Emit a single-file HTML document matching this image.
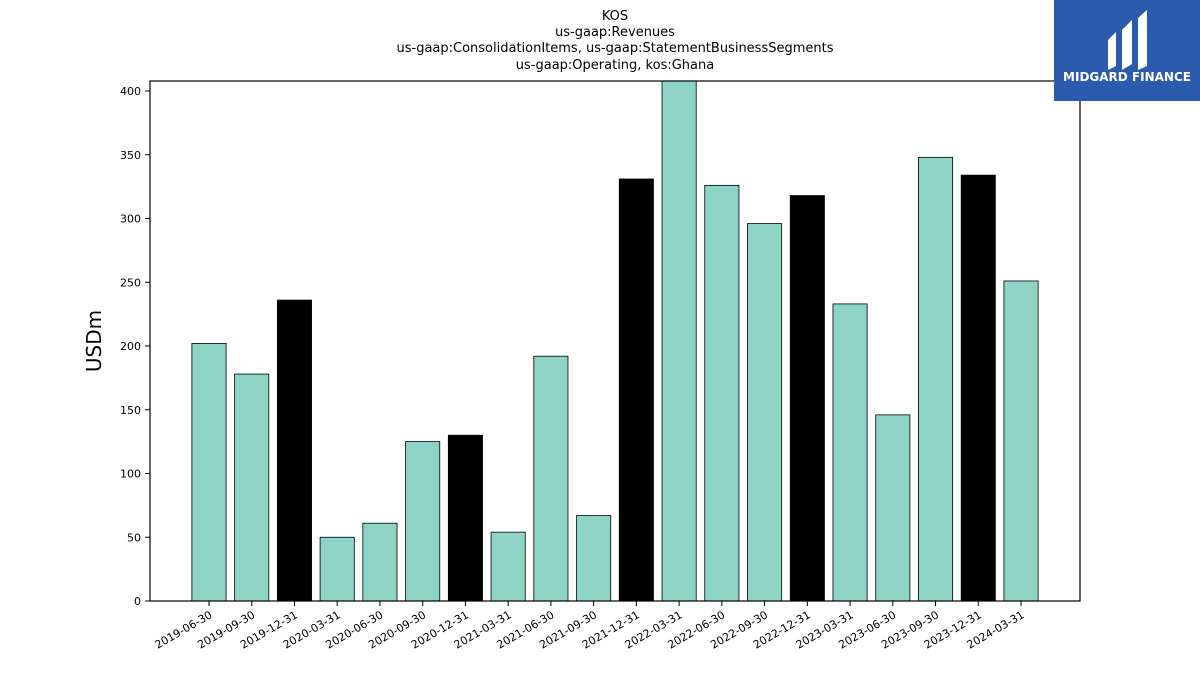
<!DOCTYPE html>
<html><head><meta charset="utf-8"><style>
body{margin:0;background:#fff;font-family:"Liberation Sans","DejaVu Sans",sans-serif;}
svg text{font-family:"DejaVu Sans","Liberation Sans",sans-serif;}
</style></head><body>
<svg id="chart" width="1200" height="675" xmlns="http://www.w3.org/2000/svg">
<g font-size="13" text-anchor="middle" fill="#000">
<text x="615" y="20">KOS</text>
<text x="615" y="36">us-gaap:Revenues</text>
<text x="615" y="52">us-gaap:ConsolidationItems, us-gaap:StatementBusinessSegments</text>
<text x="615" y="69">us-gaap:Operating, kos:Ghana</text>
</g>
<g id="bars"></g>
<g id="yticks"></g>
<g id="xticks"></g>
<rect x="150" y="81" width="930" height="520" fill="none" stroke="#000" stroke-width="1.2"/>
<text x="101" y="341" font-size="20" text-anchor="middle" transform="rotate(-90 101 341)">USDm</text>
<g>
<rect x="1054" y="0" width="146" height="101" fill="#2c5aad"/>
<path d="M1108 40 L1116 32 L1116 66 L1108 70 Z M1122 30 L1132 20 L1132 64 L1122 70 Z M1138 18 L1147 10 L1147 66 L1138 70 Z" fill="#fff"/>
<text x="1127" y="81" font-size="12" font-weight="bold" fill="#fff" text-anchor="middle">MIDGARD FINANCE</text>
</g>
</svg>
<script>
const categories=["2019-06-30","2019-09-30","2019-12-31","2020-03-31","2020-06-30","2020-09-30","2020-12-31","2021-03-31","2021-06-30","2021-09-30","2021-12-31","2022-03-31","2022-06-30","2022-09-30","2022-12-31","2023-03-31","2023-06-30","2023-09-30","2023-12-31","2024-03-31"];
const values=[202,178,236,50,61,125,130,54,192,67,331,412,326,296,318,233,146,348,334,251];
const annual=[false,false,true,false,false,false,true,false,false,false,true,false,false,false,true,false,false,false,true,false];
const yTicks=[0,50,100,150,200,250,300,350,400];
const NS="http://www.w3.org/2000/svg";
const L=150,R=1080,T=81,B=601,YMAX=(B-T)/1.275;
function xs(i){return L+(i+1.38)*(R-L)/(categories.length-1+2.76);}
function ys(v){return B-Math.min(v,YMAX)*1.275;}
const bw=0.8*(R-L)/(categories.length-1+2.76);
const gb=document.getElementById('bars'),gy=document.getElementById('yticks'),gx=document.getElementById('xticks');
values.forEach((v,i)=>{
 const r=document.createElementNS(NS,'rect');
 
 
 r.setAttribute('x',xs(i)-bw/2);r.setAttribute('y',ys(v));
 r.setAttribute('width',bw);r.setAttribute('height',B-ys(v));
 r.setAttribute('fill',annual[i]?'#000':'#8dd3c7');r.setAttribute('stroke','#000');r.setAttribute('stroke-width','0.8');
 gb.appendChild(r);
});
yTicks.forEach(t=>{
 const y=ys(t);
 const l=document.createElementNS(NS,'line');
 
 
 l.setAttribute('x1',L-5);l.setAttribute('x2',L);l.setAttribute('y1',y);l.setAttribute('y2',y);l.setAttribute('stroke','#000');
 gy.appendChild(l);
 const tx=document.createElementNS(NS,'text');
 
 
 tx.setAttribute('x',L-9);tx.setAttribute('y',y+4);tx.setAttribute('font-size','11');tx.setAttribute('text-anchor','end');
 tx.textContent=t;gy.appendChild(tx);
});
categories.forEach((c,i)=>{
 const x=xs(i);
 const l=document.createElementNS(NS,'line');
 
 
 l.setAttribute('x1',x);l.setAttribute('x2',x);l.setAttribute('y1',B);l.setAttribute('y2',B+5);l.setAttribute('stroke','#000');
 gx.appendChild(l);
 const tx=document.createElementNS(NS,'text');
 
 
 tx.setAttribute('x',x+4);tx.setAttribute('y',B+16);tx.setAttribute('font-size','11');tx.setAttribute('text-anchor','end');
 tx.setAttribute('transform','rotate(-30 '+(x+4)+' '+(B+16)+')');
 tx.textContent=c;gx.appendChild(tx);
});
</script>
</body></html>
